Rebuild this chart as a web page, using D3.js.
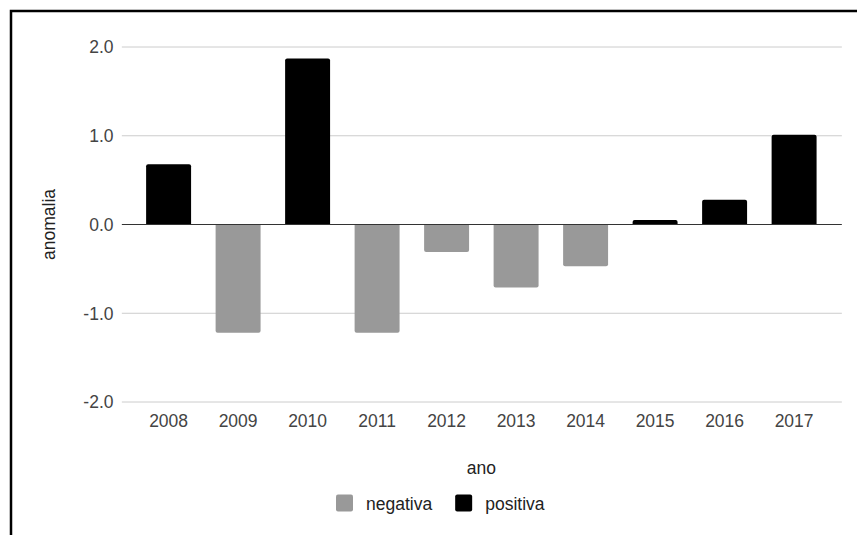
<!DOCTYPE html>
<html>
<head>
<meta charset="utf-8">
<script src="https://cdn.jsdelivr.net/npm/d3@7"></script>
<style>
  html, body { margin: 0; padding: 0; background: #fff; }
  svg { display: block; font-family: "Liberation Sans", Arial, sans-serif; }
</style>
</head>
<body>
<svg id="chart" width="857" height="535"></svg>
<script>
// Annual anomaly, split into negative and positive series
const years = ["2008", "2009", "2010", "2011", "2012", "2013", "2014", "2015", "2016", "2017"];
const negativa = [null, -1.22, null, -1.22, -0.31, -0.71, -0.47, null, null, null];
const positiva = [0.68, null, 1.87, null, null, null, null, 0.05, 0.28, 1.01];
const yTicks = [-2, -1, 0, 1, 2];
const seriesNames = ["negativa", "positiva"];
const seriesColors = ["#999999", "#000000"];

const svg = d3.select("#chart");

// outer frame
svg.append("rect")
  .attr("x", 11).attr("y", 11)
  .attr("width", 900).attr("height", 600)
  .attr("fill", "none").attr("stroke", "#000").attr("stroke-width", 2.5);

const x = d3.scaleBand()
  .domain(years)
  .range([133.85, 828.85])
  .paddingInner(0.353)
  .paddingOuter(0.1765);

const y = d3.scaleLinear().domain([-2, 2]).range([402, 47]);

const gridX0 = x.range()[0] - 12;
const gridX1 = x.range()[1] + 13;

// horizontal gridlines
svg.append("g").selectAll("line")
  .data(yTicks.filter(d => d !== 0))
  .join("line")
  .attr("x1", gridX0).attr("x2", gridX1)
  .attr("y1", d => y(d)).attr("y2", d => y(d))
  .attr("stroke", "#cccccc").attr("stroke-width", 1);

// y tick labels (plain hyphen for negatives)
const fmt = d3.formatLocale({ decimal: ".", thousands: ",", grouping: [3], currency: ["", ""], minus: "-" }).format(".1f");
svg.append("g").selectAll("text")
  .data(yTicks)
  .join("text")
  .attr("x", 113.5)
  .attr("y", d => y(d))
  .attr("dy", "0.36em")
  .attr("text-anchor", "end")
  .attr("font-size", 17.5)
  .attr("fill", "#444")
  .text(d => fmt(d));

// bar path with slightly rounded far corners
function barPath(cx0, w, v) {
  const y0 = y(0), y1 = y(v);
  const r = Math.min(2, Math.abs(y1 - y0) / 2);
  const s = v >= 0 ? -1 : 1;
  const x0 = cx0, x1 = cx0 + w;
  return `M${x0},${y0} L${x0},${y1 - s * r} Q${x0},${y1} ${x0 + r},${y1} L${x1 - r},${y1} Q${x1},${y1} ${x1},${y1 - s * r} L${x1},${y0} Z`;
}

const series = [negativa, positiva];
series.forEach((vals, si) => {
  svg.append("g").selectAll("path")
    .data(years.map((yr, i) => ({ yr, v: vals[i] })).filter(d => d.v !== null))
    .join("path")
    .attr("d", d => barPath(x(d.yr), x.bandwidth(), d.v))
    .attr("fill", seriesColors[si]);
});

// zero baseline
svg.append("line")
  .attr("x1", gridX0).attr("x2", gridX1)
  .attr("y1", y(0)).attr("y2", y(0))
  .attr("stroke", "#333").attr("stroke-width", 1);

// x tick labels
svg.append("g").selectAll("text")
  .data(years)
  .join("text")
  .attr("x", d => x(d) + x.bandwidth() / 2)
  .attr("y", 426.7)
  .attr("text-anchor", "middle")
  .attr("font-size", 17.5)
  .attr("fill", "#444")
  .text(d => d);

// axis titles
svg.append("text")
  .attr("x", (x.range()[0] + x.range()[1]) / 2)
  .attr("y", 473.5)
  .attr("text-anchor", "middle")
  .attr("font-size", 17.5)
  .attr("fill", "#222")
  .text("ano");

svg.append("text")
  .attr("transform", `translate(55,${(y(2) + y(-2)) / 2}) rotate(-90)`)
  .attr("text-anchor", "middle")
  .attr("font-size", 17.5)
  .attr("fill", "#222")
  .text("anomalia");

// legend
const legend = svg.append("g");
let lx = 336;
seriesNames.forEach((name, i) => {
  legend.append("rect")
    .attr("x", lx).attr("y", 494.5)
    .attr("width", 17).attr("height", 17)
    .attr("rx", 2)
    .attr("fill", seriesColors[i]);
  const t = legend.append("text")
    .attr("x", lx + 30)
    .attr("y", 509.5)
    .attr("font-size", 17.5)
    .attr("fill", "#222")
    .text(name);
  lx = lx + 30 + t.node().getComputedTextLength() + 23;
});
</script>
</body>
</html>
